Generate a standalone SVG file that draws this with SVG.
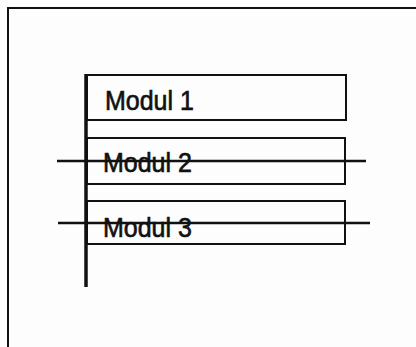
<svg xmlns="http://www.w3.org/2000/svg" width="416" height="347" viewBox="0 0 416 347">
<style>
.box{fill:none;stroke:#111;stroke-width:2}
.t{font-family:"Liberation Sans",Arial,sans-serif;font-size:25px;fill:#111;stroke:#111;stroke-width:0.6}
.ln{stroke:#111;fill:none}
</style>
<rect width="416" height="347" fill="#fdfdfd"/>
<g id="frame">
<path class="ln" stroke-width="2" d="M8,347 V8 H416"/>
</g>
<g id="modul1">
<rect class="box" x="87" y="75" width="259" height="45"/>
<text class="t" transform="translate(105,110) scale(1,1.1)">Modul 1</text>
</g>
<g id="modul2">
<rect class="box" x="87" y="138" width="258" height="46"/>
<text class="t" transform="translate(103,172) scale(1,1.1)">Modul 2</text>
</g>
<g id="modul3">
<rect class="box" x="87" y="201" width="258" height="43"/>
<text class="t" transform="translate(103,237) scale(1,1.1)">Modul 3</text>
</g>
<g id="connectors">
<line class="ln" stroke-width="3.5" x1="86" y1="74" x2="86" y2="287"/>
<line class="ln" stroke-width="2.5" x1="57" y1="161" x2="366" y2="161"/>
<line class="ln" stroke-width="2.5" x1="58" y1="223" x2="370" y2="223"/>
</g>
</svg>
